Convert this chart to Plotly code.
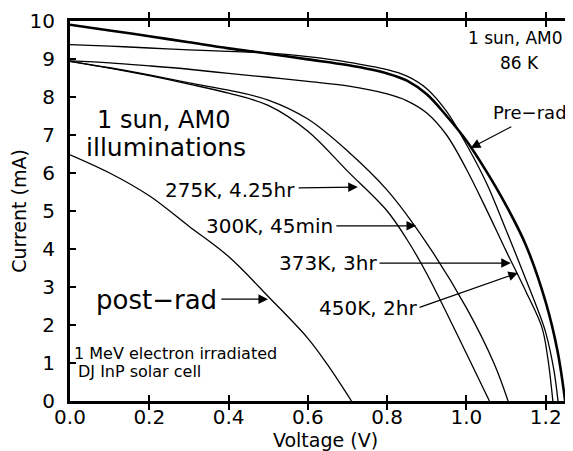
import plotly.graph_objects as go

# I-V curves: voltage (V) vs current (mA)
pre_v = [0, 0.1, 0.2, 0.3, 0.4, 0.5, 0.6, 0.7, 0.8, 0.85, 0.9, 0.95, 1.0, 1.05, 1.1, 1.15, 1.2, 1.23, 1.249]
pre_i = [9.90, 9.75, 9.60, 9.44, 9.28, 9.14, 8.99, 8.84, 8.62, 8.43, 8.07, 7.50, 6.85, 6.05, 5.15, 4.10, 2.60, 1.30, 0.0]

k450_v = [0, 0.1, 0.2, 0.3, 0.4, 0.45, 0.5, 0.6, 0.7, 0.8, 0.85, 0.9, 0.95, 1.0, 1.05, 1.1, 1.15, 1.18, 1.2, 1.22, 1.231]
k450_i = [9.38, 9.34, 9.29, 9.24, 9.20, 9.18, 9.16, 9.06, 8.92, 8.72, 8.55, 8.22, 7.62, 6.75, 5.75, 4.50, 3.20, 2.40, 1.80, 0.85, 0.0]

k373_v = [0, 0.1, 0.2, 0.3, 0.4, 0.5, 0.6, 0.7, 0.8, 0.85, 0.9, 0.95, 1.0, 1.05, 1.1, 1.15, 1.19, 1.205, 1.218]
k373_i = [8.95, 8.90, 8.82, 8.73, 8.62, 8.52, 8.41, 8.29, 8.08, 7.90, 7.58, 7.00, 6.10, 5.05, 3.95, 2.88, 1.95, 1.15, 0.0]

k300_v = [0, 0.1, 0.2, 0.3, 0.4, 0.5, 0.6, 0.7, 0.8, 0.9, 1.0, 1.07, 1.105]
k300_i = [8.94, 8.77, 8.58, 8.37, 8.18, 7.92, 7.42, 6.58, 5.55, 4.15, 2.45, 0.98, 0.0]

k275_v = [0, 0.1, 0.2, 0.3, 0.4, 0.5, 0.6, 0.7, 0.8, 0.85, 0.9, 1.0, 1.058]
k275_i = [8.94, 8.76, 8.56, 8.34, 8.10, 7.78, 7.10, 6.05, 5.00, 4.25, 3.35, 1.25, 0.0]

post_v = [0, 0.1, 0.2, 0.3, 0.4, 0.5, 0.6, 0.65, 0.71]
post_i = [6.48, 6.00, 5.40, 4.60, 3.80, 2.75, 1.65, 0.95, 0.0]

FONT = "DejaVu Sans"
V_MAX = 1.289

fig = go.Figure()

curves = [
    (pre_v, pre_i, 2.6),
    (k450_v, k450_i, 1.3),
    (k373_v, k373_i, 1.3),
    (k300_v, k300_i, 1.3),
    (k275_v, k275_i, 1.3),
    (post_v, post_i, 1.3),
]
for v, i, w in curves:
    fig.add_trace(go.Scatter(
        x=v, y=i, mode="lines",
        line={"color": "black", "width": w, "shape": "spline", "smoothing": 1.0},
        showlegend=False, hoverinfo="skip",
    ))

# invisible trace on the mirrored y axis so its inside ticks get drawn
fig.add_trace(go.Scatter(x=[0], y=[0], yaxis="y2", mode="markers",
                         marker={"opacity": 0}, showlegend=False, hoverinfo="skip"))

# text labels: (text, x, y, size, xanchor)
labels = [
    ("1 sun, AM0", 1.125, 9.55, 17, "center"),
    ("86 K", 1.133, 8.89, 17, "center"),
    ("Pre−rad", 1.160, 7.58, 18, "center"),
    ("1 sun, AM0", 0.235, 7.39, 24, "center"),
    ("illuminations", 0.242, 6.66, 25, "center"),
    ("275K, 4.25hr", 0.404, 5.55, 20, "center"),
    ("300K, 45min", 0.504, 4.61, 20, "center"),
    ("373K, 3hr", 0.651, 3.63, 20, "center"),
    ("450K, 2hr", 0.752, 2.45, 20, "center"),
    ("post−rad", 0.219, 2.66, 26, "center"),
    ("1 MeV electron irradiated", 0.004, 1.24, 16, "left"),
    ("DJ InP solar cell", 0.016, 0.77, 16, "left"),
]
for text, x, y, size, anchor in labels:
    fig.add_annotation(x=x, y=y, text=text, showarrow=False, xanchor=anchor,
                       font={"family": FONT, "size": size, "color": "black"})

# arrows: (tail_x, tail_y, tip_x, tip_y)
arrows = [
    (1.117, 7.24, 1.011, 6.66),
    (0.573, 5.61, 0.726, 5.63),
    (0.668, 4.61, 0.873, 4.61),
    (0.777, 3.63, 1.112, 3.63),
    (0.878, 2.45, 1.130, 3.37),
    (0.378, 2.68, 0.4995, 2.68),
]
for tx, ty, hx, hy in arrows:
    fig.add_annotation(x=hx, y=hy, ax=tx, ay=ty, axref="x", ayref="y",
                       text="", showarrow=True, arrowhead=2, arrowsize=1.6,
                       arrowwidth=1.2, arrowcolor="black", standoff=0)

tick_style = dict(ticks="inside", ticklen=6, tickwidth=1.5, tickcolor="black",
                  showgrid=False, zeroline=False)
tick_font = {"family": FONT, "size": 20, "color": "black"}
title_font = {"family": FONT, "size": 19, "color": "black"}

fig.update_layout(
    width=573, height=451,
    margin={"l": 62, "r": 0, "t": 13, "b": 58},
    paper_bgcolor="white", plot_bgcolor="white",
    xaxis=dict(tick_style, range=[0, V_MAX], dtick=0.2, tickformat=".1f",
               showline=True, linewidth=3, linecolor="black", mirror="allticks",
               tickfont=tick_font, ticklabelstandoff=-4,
               title={"text": "Voltage (V)", "standoff": 4, "font": title_font}),
    yaxis=dict(tick_style, range=[0, 10], dtick=1,
               showline=True, linewidth=3, linecolor="black",
               tickfont=tick_font, ticklabelstandoff=8,
               title={"text": "Current (mA)", "standoff": 2, "font": title_font}),
    yaxis2=dict(tick_style, range=[0, 10], dtick=1, overlaying="y", side="right",
                showline=False, showticklabels=False),
)

fig.write_html("out.html")
